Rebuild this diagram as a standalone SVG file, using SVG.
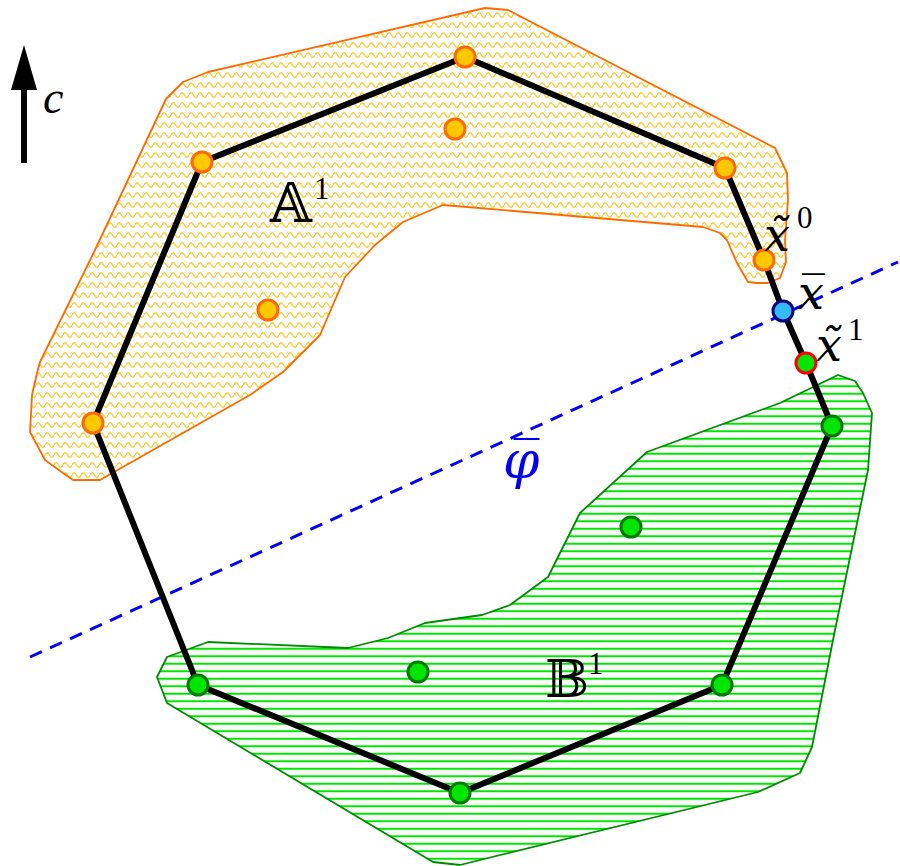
<svg xmlns="http://www.w3.org/2000/svg" width="900" height="866" viewBox="0 0 900 866">
<defs>
<pattern id="waves" patternUnits="userSpaceOnUse" width="9" height="10">
<path d="M0,5 Q2.25,0.5 4.5,5 T9,5" fill="none" stroke="#ffcc33" stroke-width="1.4"/>
</pattern>
<pattern id="hlines" patternUnits="userSpaceOnUse" width="10" height="7.5">
<line x1="0" y1="3.75" x2="10" y2="3.75" stroke="#00e600" stroke-width="2"/>
</pattern>
</defs>
<style>
.regionA{fill:url(#waves);stroke:#ff6a00;stroke-width:1.8;stroke-linejoin:round}
.regionB{fill:url(#hlines);stroke:#008c00;stroke-width:1.8;stroke-linejoin:round}
.edge{fill:none;stroke:#000;stroke-width:6;stroke-linejoin:round}
.sep{fill:none;stroke:#0000ee;stroke-width:3;stroke-dasharray:13 9}
.pa{fill:#ffc800;stroke:#ff6a00;stroke-width:3}
.pb{fill:#00e600;stroke:#007a00;stroke-width:3}
.pbar{fill:#33bbff;stroke:#000080;stroke-width:3}
.pt1{fill:#00e600;stroke:#ff0000;stroke-width:3}
.m{font-family:"Liberation Serif","DejaVu Serif",serif;font-style:italic;fill:#000}
.d{font-family:"DejaVu Serif","Liberation Serif",serif;font-style:italic;fill:#000}
.bb{font-family:"DejaVu Serif","DejaVu Sans",serif;fill:#000}
.sup{font-family:"Liberation Serif","DejaVu Serif",serif;font-style:normal;font-size:31px;fill:#000}
</style>
<rect width="900" height="866" fill="#fff"/>

<g id="region-A">
<polygon class="regionA" points="166,99 183,82 208,72 485,8 508,10 775,148 787,173 788,200 785,240 786,262 780,278 768,283 757,283 748,282 737,263 727,240 720,233 703,227 443,205 403,222 375,245 345,277 320,335 283,372 250,395 100,480 73,480 63,473 45,460 30,432 32,395 37,373 40,362 95,250"/>
</g>
<g id="region-B">
<polygon class="regionB" points="838,375 855,381 863,393 872,413 868,470 833,640 812,747 800,773 758,792 480,860 460,865 433,862 167,703 157,677 167,657 208,642 348,648 388,638 425,623 482,615 510,605 548,577 580,513 647,452 780,403"/>
</g>

<g id="separator">
<line class="sep" x1="30" y1="657" x2="898" y2="262"/>
</g>

<g id="connectors">
<polygon class="edge" points="93,423 202,162 465,57 725,168 764,260 783,311 806,363 832,426 722,685 460,793 198,685"/>
</g>

<g id="axis-c">
<line x1="24" y1="163" x2="24" y2="86" stroke="#000" stroke-width="6"/>
<polygon points="24,45 11,90 37,90" fill="#000"/>
<text class="m" x="43" y="113" font-size="46">c</text>
</g>

<g id="nodes-A">
<g id="a1"><circle class="pa" cx="465" cy="57" r="10"/></g>
<g id="a2"><circle class="pa" cx="202" cy="162" r="10"/></g>
<g id="a3"><circle class="pa" cx="725" cy="168" r="10"/></g>
<g id="a4"><circle class="pa" cx="455" cy="129" r="10"/></g>
<g id="a5"><circle class="pa" cx="268" cy="310" r="10"/></g>
<g id="a6"><circle class="pa" cx="93" cy="423" r="10"/></g>
<g id="x0"><circle class="pa" cx="764" cy="260" r="10"/></g>
</g>
<g id="xbar"><circle class="pbar" cx="783" cy="311" r="10"/></g>
<g id="x1"><circle class="pt1" cx="806" cy="363" r="10"/></g>
<g id="nodes-B">
<g id="b1"><circle class="pb" cx="832" cy="426" r="10"/></g>
<g id="b2"><circle class="pb" cx="631" cy="527" r="10"/></g>
<g id="b3"><circle class="pb" cx="418" cy="672" r="10"/></g>
<g id="b4"><circle class="pb" cx="198" cy="685" r="10"/></g>
<g id="b5"><circle class="pb" cx="722" cy="685" r="10"/></g>
<g id="b6"><circle class="pb" cx="460" cy="793" r="10"/></g>
</g>

<g id="labels">
<text class="bb" x="270" y="222" font-size="54">𝔸</text>
<text class="sup" x="314" y="199">1</text>
<text class="bb" x="545" y="697" font-size="52">𝔹</text>
<text class="sup" x="588" y="674">1</text>
<text class="d" x="764" y="251" font-size="46">x̃</text>
<text class="sup" x="797" y="228">0</text>
<text class="d" x="798" y="309" font-size="46">x̅</text>
<text class="d" x="816" y="361" font-size="46">x̃</text>
<text class="sup" x="848" y="340">1</text>
<text class="d" x="503" y="478" font-size="52" style="fill:#0000ee">φ̅</text>
</g>
</svg>
